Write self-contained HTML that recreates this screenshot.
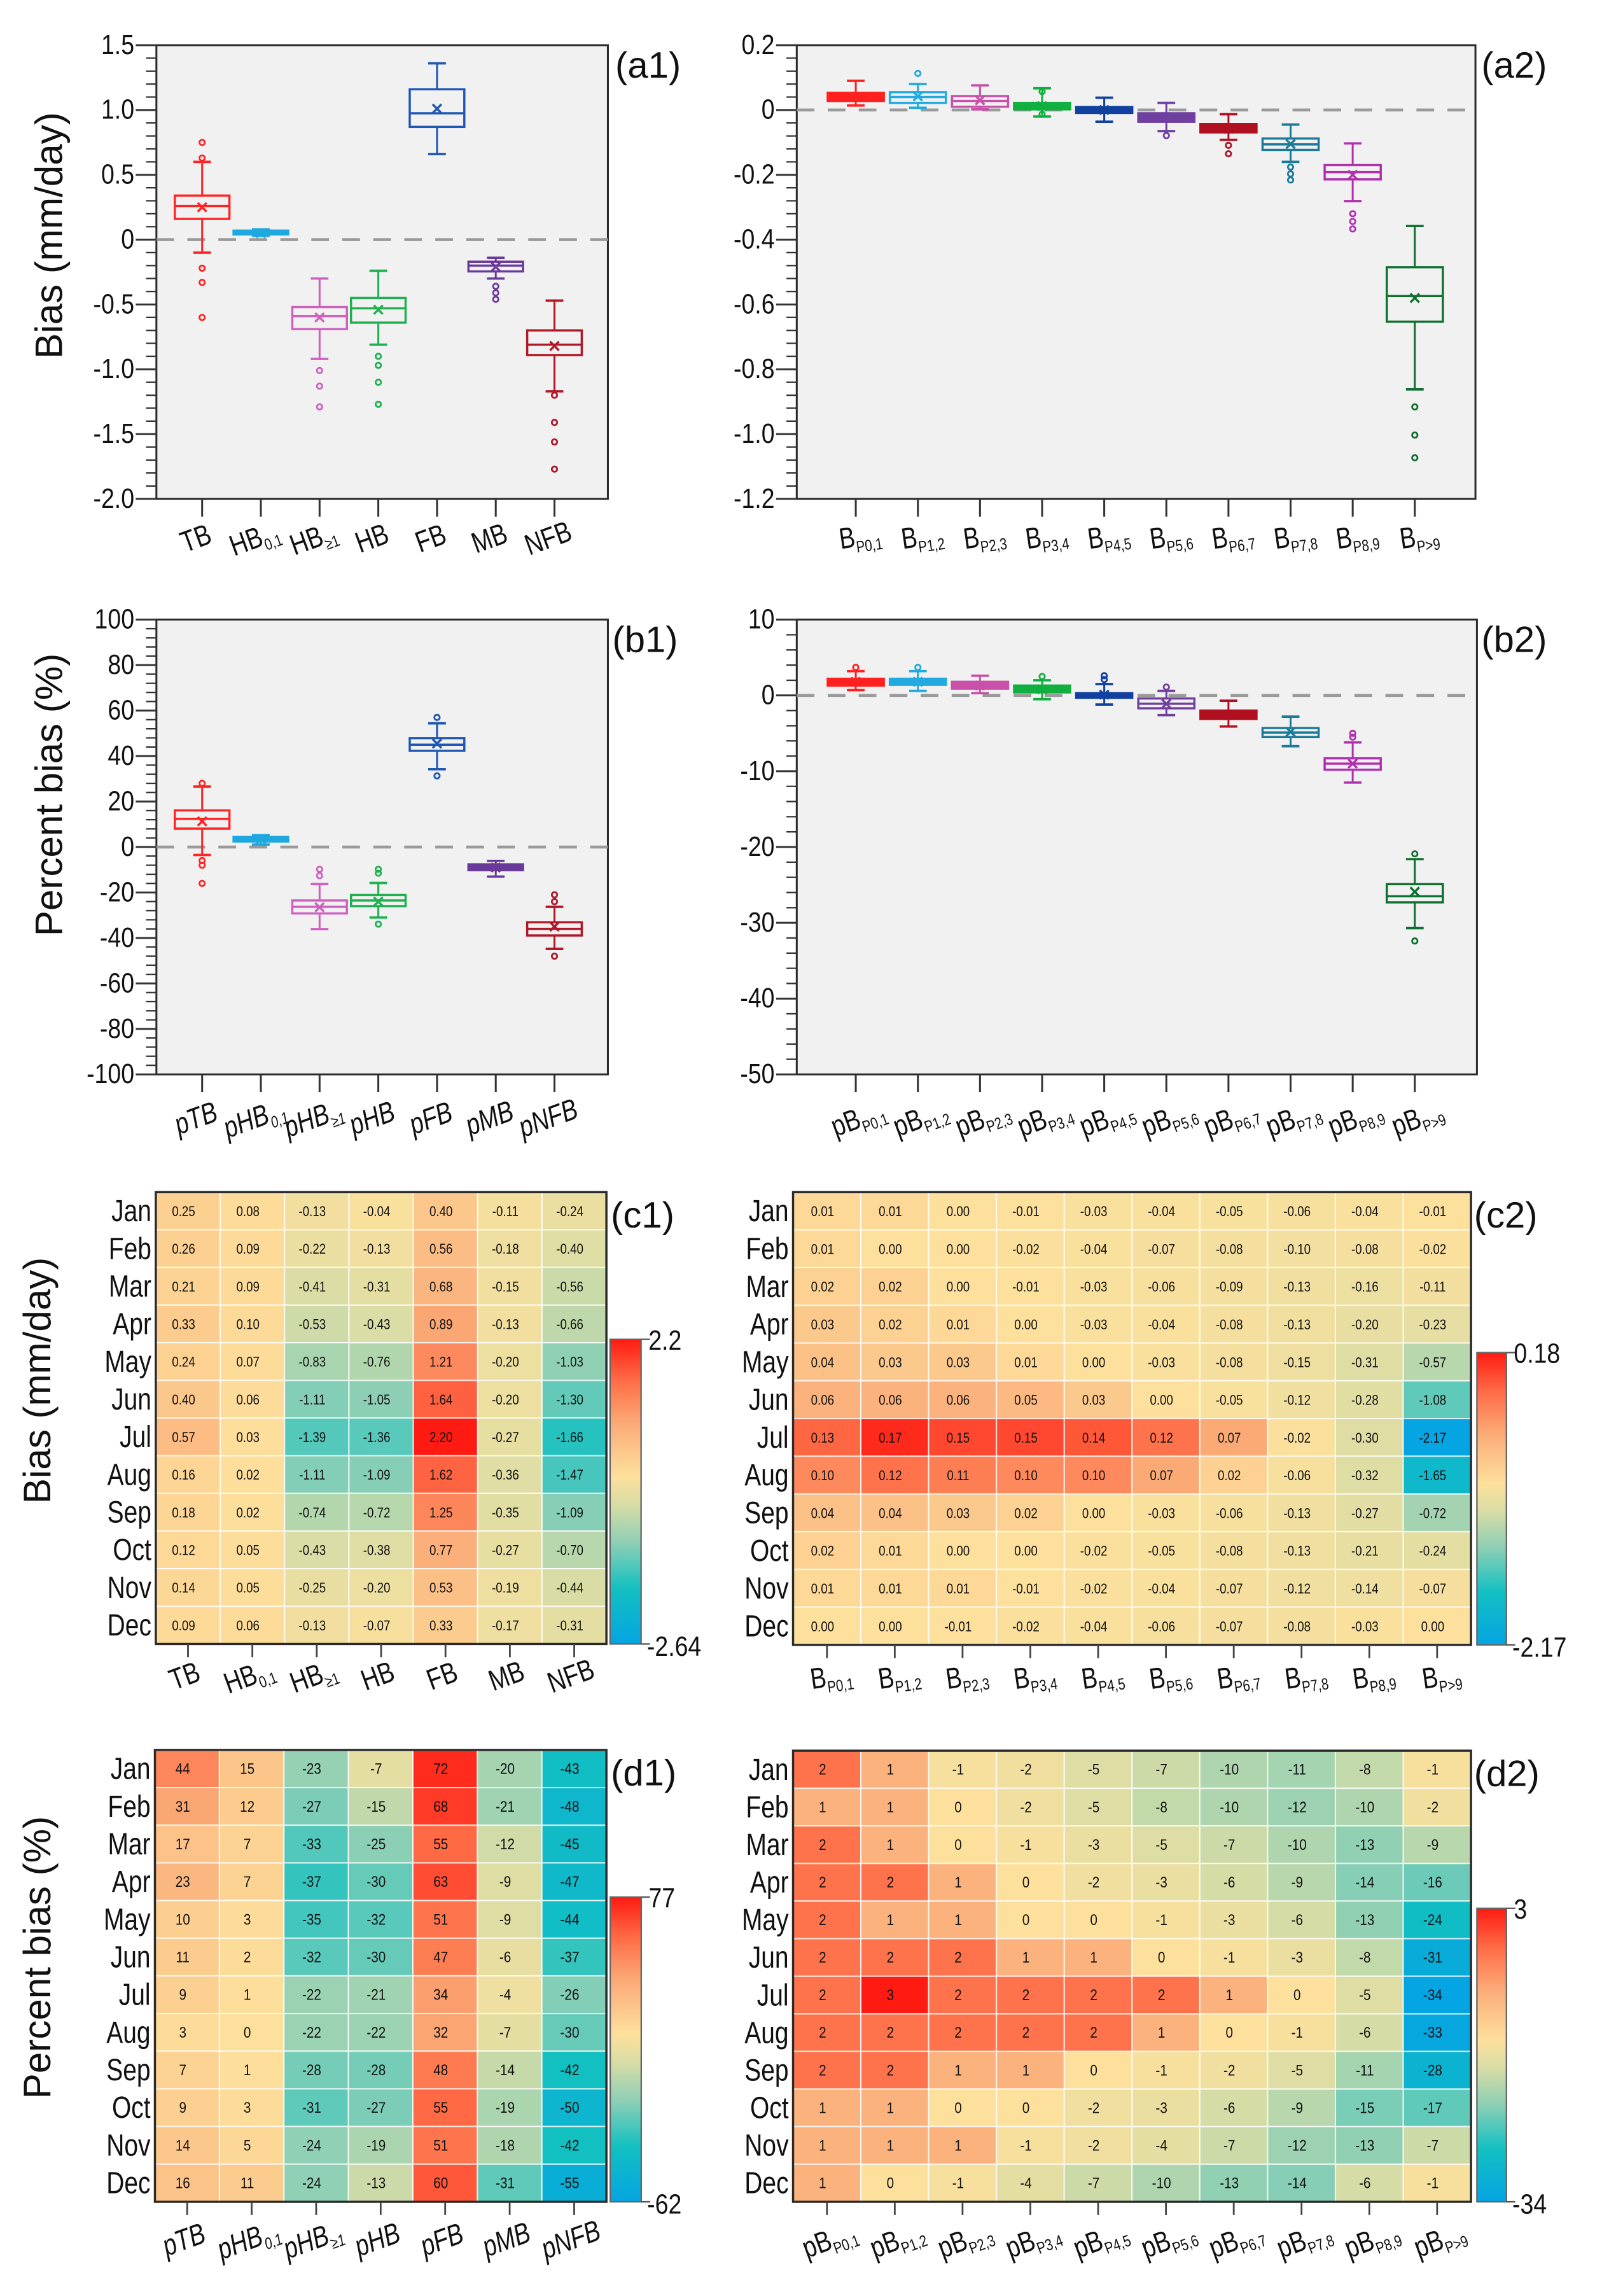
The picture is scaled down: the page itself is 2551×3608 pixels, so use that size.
<!DOCTYPE html>
<html><head><meta charset="utf-8"><style>
html,body{margin:0;padding:0;background:#fff;}
svg{display:block;}
text{font-family:"Liberation Sans Narrow","Liberation Sans",sans-serif;fill:#111;}
</style></head><body>
<svg id="fig" xmlns="http://www.w3.org/2000/svg" width="2551" height="3608" viewBox="0 0 1100 1560" preserveAspectRatio="none"></svg>
<script>
// ---------- DATA ----------
const a1Cats=[["TB",""],["HB","0,1"],["HB","≥1"],["HB",""],["FB",""],["MB",""],["NFB",""]];
const a1Colors=["#ff2424","#1ea8e0","#d060c0","#1fb050","#1f58b4","#6a3a9a","#b01828"];
const a1Low=[-0.10,0.03,-0.92,-0.81,0.66,-0.30,-1.17];
const a1Q1=[0.16,0.04,-0.69,-0.64,0.87,-0.245,-0.89];
const a1Med=[0.26,0.05,-0.59,-0.53,0.975,-0.20,-0.81];
const a1Q3=[0.34,0.07,-0.52,-0.45,1.16,-0.17,-0.70];
const a1High=[0.60,0.08,-0.30,-0.24,1.36,-0.14,-0.47];
const a1Mean=[0.25,0.05,-0.60,-0.54,1.01,-0.21,-0.82];
const a1Out=[[0.75,0.63,-0.22,-0.33,-0.60],[],[-1.01,-1.13,-1.29],[-0.90,-0.97,-1.10,-1.27],[],[-0.36,-0.41,-0.46],[-1.20,-1.41,-1.56,-1.77]];
const a1Ticks=["1.5","1.0","0.5","0","-0.5","-1.0","-1.5","-2.0"];

const a2Cats=[["B","P0,1"],["B","P1,2"],["B","P2,3"],["B","P3,4"],["B","P4,5"],["B","P5,6"],["B","P6,7"],["B","P7,8"],["B","P8,9"],["B","P>9"]];
const a2Colors=["#ff2020","#20aae0","#c850a8","#10b040","#1040a0","#7040a0","#b01020","#1a7a9a","#b030b0","#107030"];
const a2Low=[0.014,0.007,0.002,-0.02,-0.036,-0.065,-0.092,-0.16,-0.281,-0.862];
const a2Q1=[0.028,0.022,0.010,0.002,-0.009,-0.036,-0.069,-0.123,-0.214,-0.653];
const a2Med=[0.043,0.040,0.028,0.013,0.0,-0.023,-0.058,-0.106,-0.192,-0.574];
const a2Q3=[0.053,0.055,0.043,0.022,0.009,-0.010,-0.043,-0.088,-0.170,-0.485];
const a2High=[0.09,0.08,0.076,0.067,0.038,0.022,-0.013,-0.045,-0.103,-0.358];
const a2Mean=[0.04,0.042,0.03,0.012,0.0,-0.022,-0.058,-0.105,-0.20,-0.58];
const a2Out=[[],[0.113],[],[0.057,-0.013],[],[-0.079],[-0.109,-0.135],[-0.176,-0.197,-0.216],[-0.32,-0.344,-0.367],[-0.916,-1.003,-1.073]];
const a2Ticks=["0.2","0","-0.2","-0.4","-0.6","-0.8","-1.0","-1.2"];

const b1Cats=[["pTB",""],["pHB","0,1"],["pHB","≥1"],["pHB",""],["pFB",""],["pMB",""],["pNFB",""]];
const b1Low=[-3.5,1.1,-36.1,-31,34.2,-13,-44.8];
const b1Q1=[8.1,2.4,-29.2,-26,42.3,-10.2,-38.9];
const b1Med=[12.4,3.4,-26.3,-23.5,45,-8.9,-36];
const b1Q3=[16.1,4.4,-23.5,-21.1,47.9,-7.6,-33.1];
const b1High=[26.6,5.2,-16.3,-15.8,54.4,-6.1,-26.3];
const b1Mean=[11.3,3.4,-26.5,-24,45.5,-9,-35];
const b1Out=[[28,-6,-8,-16],[],[-9.8,-12.6],[-9.8,-11.5,-33.9],[57,31.3],[],[-21,-24,-48]];
const b1Ticks=["100","80","60","40","20","0","-20","-40","-60","-80","-100"];

const b2Cats=[["pB","P0,1"],["pB","P1,2"],["pB","P2,3"],["pB","P3,4"],["pB","P4,5"],["pB","P5,6"],["pB","P6,7"],["pB","P7,8"],["pB","P8,9"],["pB","P>9"]];
const b2Low=[0.7,0.6,0.3,-0.5,-1.2,-2.6,-4.1,-6.7,-11.5,-30.7];
const b2Q1=[1.3,1.4,0.9,0.4,-0.3,-1.7,-3.1,-5.5,-9.8,-27.3];
const b2Med=[1.7,1.8,1.3,0.8,0.0,-1.1,-2.6,-4.9,-9.0,-26.5];
const b2Q3=[2.2,2.2,1.8,1.3,0.3,-0.4,-2.0,-4.3,-8.3,-24.9];
const b2High=[3.2,3.2,2.6,2.0,1.5,0.6,-0.7,-2.8,-6.2,-21.6];
const b2Mean=[1.8,1.8,1.3,0.8,0.1,-1.1,-2.6,-4.8,-9.0,-25.9];
const b2Out=[[3.7],[3.7],[],[2.5],[2.6,2.1],[1.1],[],[],[-5.0,-5.5],[-20.9,-32.4]];
const b2Ticks=["10","0","-10","-20","-30","-40","-50"];

const months=["Jan","Feb","Mar","Apr","May","Jun","Jul","Aug","Sep","Oct","Nov","Dec"];
const c1Values=[
[0.25,0.08,-0.13,-0.04,0.40,-0.11,-0.24],
[0.26,0.09,-0.22,-0.13,0.56,-0.18,-0.40],
[0.21,0.09,-0.41,-0.31,0.68,-0.15,-0.56],
[0.33,0.10,-0.53,-0.43,0.89,-0.13,-0.66],
[0.24,0.07,-0.83,-0.76,1.21,-0.20,-1.03],
[0.40,0.06,-1.11,-1.05,1.64,-0.20,-1.30],
[0.57,0.03,-1.39,-1.36,2.20,-0.27,-1.66],
[0.16,0.02,-1.11,-1.09,1.62,-0.36,-1.47],
[0.18,0.02,-0.74,-0.72,1.25,-0.35,-1.09],
[0.12,0.05,-0.43,-0.38,0.77,-0.27,-0.70],
[0.14,0.05,-0.25,-0.20,0.53,-0.19,-0.44],
[0.09,0.06,-0.13,-0.07,0.33,-0.17,-0.31]];
const c1Range=[-2.64,2.2];
const c1RangeLabels=["2.2","-2.64"];
const c2Values=[
[0.01,0.01,0.00,-0.01,-0.03,-0.04,-0.05,-0.06,-0.04,-0.01],
[0.01,0.00,0.00,-0.02,-0.04,-0.07,-0.08,-0.10,-0.08,-0.02],
[0.02,0.02,0.00,-0.01,-0.03,-0.06,-0.09,-0.13,-0.16,-0.11],
[0.03,0.02,0.01,0.00,-0.03,-0.04,-0.08,-0.13,-0.20,-0.23],
[0.04,0.03,0.03,0.01,0.00,-0.03,-0.08,-0.15,-0.31,-0.57],
[0.06,0.06,0.06,0.05,0.03,0.00,-0.05,-0.12,-0.28,-1.08],
[0.13,0.17,0.15,0.15,0.14,0.12,0.07,-0.02,-0.30,-2.17],
[0.10,0.12,0.11,0.10,0.10,0.07,0.02,-0.06,-0.32,-1.65],
[0.04,0.04,0.03,0.02,0.00,-0.03,-0.06,-0.13,-0.27,-0.72],
[0.02,0.01,0.00,0.00,-0.02,-0.05,-0.08,-0.13,-0.21,-0.24],
[0.01,0.01,0.01,-0.01,-0.02,-0.04,-0.07,-0.12,-0.14,-0.07],
[0.00,0.00,-0.01,-0.02,-0.04,-0.06,-0.07,-0.08,-0.03,0.00]];
const c2Range=[-2.17,0.18];
const c2RangeLabels=["0.18","-2.17"];
const d1Values=[
[44,15,-23,-7,72,-20,-43],
[31,12,-27,-15,68,-21,-48],
[17,7,-33,-25,55,-12,-45],
[23,7,-37,-30,63,-9,-47],
[10,3,-35,-32,51,-9,-44],
[11,2,-32,-30,47,-6,-37],
[9,1,-22,-21,34,-4,-26],
[3,0,-22,-22,32,-7,-30],
[7,1,-28,-28,48,-14,-42],
[9,3,-31,-27,55,-19,-50],
[14,5,-24,-19,51,-18,-42],
[16,11,-24,-13,60,-31,-55]];
const d1Range=[-62,77];
const d1RangeLabels=["77","-62"];
const d2Values=[
[2,1,-1,-2,-5,-7,-10,-11,-8,-1],
[1,1,0,-2,-5,-8,-10,-12,-10,-2],
[2,1,0,-1,-3,-5,-7,-10,-13,-9],
[2,2,1,0,-2,-3,-6,-9,-14,-16],
[2,1,1,0,0,-1,-3,-6,-13,-24],
[2,2,2,1,1,0,-1,-3,-8,-31],
[2,3,2,2,2,2,1,0,-5,-34],
[2,2,2,2,2,1,0,-1,-6,-33],
[2,2,1,1,0,-1,-2,-5,-11,-28],
[1,1,0,0,-2,-3,-6,-9,-15,-17],
[1,1,1,-1,-2,-4,-7,-12,-13,-7],
[1,0,-1,-4,-7,-10,-13,-14,-6,-1]];
const d2Range=[-34,3];
const d2RangeLabels=["3","-34"];

// ---------- HELPERS ----------
const NS="http://www.w3.org/2000/svg";
const svg=document.getElementById('fig');
function mk(tag,parent){const e=document.createElementNS(NS,tag);(parent||svg).appendChild(e);return e;}
function at(e,o){for(const k in o)e.setAttribute(k,o[k]);return e;}
function line(p,x1,y1,x2,y2,c,w){return at(mk('line',p),{x1,y1,x2,y2,stroke:c,'stroke-width':w});}
function cond(x,y,sx){return `translate(${x} ${y}) scale(${sx} 1) translate(${-x} ${-y})`;}
const stops=[[0,[5,164,226]],[0.18,[18,192,194]],[0.33,[140,207,181]],[0.46,[218,221,165]],[0.55,[253,224,156]],[0.72,[251,172,120]],[0.87,[255,106,69]],[1,[255,26,18]]];
function cmapT(t){t=Math.max(0,Math.min(1,t));for(let i=1;i<stops.length;i++){if(t<=stops[i][0]){const a=stops[i-1],b=stops[i];const f=(t-a[0])/(b[0]-a[0]);const c=a[1].map((v,k)=>Math.round(v+(b[1][k]-v)*f));return `rgb(${c[0]},${c[1]},${c[2]})`;}}return 'rgb(255,26,18)';}
function valT(v,range){return v>=0?0.55+0.45*v/range[1]:0.55*(1-v/range[0]);}
function catLabel(p,x,y,lab,italic,rot,size){
  const t=mk('text',p);
  at(t,{x,y,'text-anchor':'middle','font-size':size,transform:`rotate(${rot} ${x} ${y}) `+cond(x,y,0.8)});
  if(italic)t.setAttribute('font-style','italic');
  const s1=mk('tspan',t);s1.textContent=lab[0];
  if(lab[1]){const s2=mk('tspan',t);at(s2,{'font-size':size*0.55,dy:4});s2.textContent=lab[1];}
  
  
  return t;
}

function boxPanel(cfg){
  const g=mk('g');
  
  
  const L=cfg.L,R=cfg.R,T=cfg.T,B=cfg.B;
  const y=v=>T+(cfg.ymax-v)/(cfg.ymax-cfg.ymin)*(B-T);
  const bg=at(mk('rect',g),{x:L,y:T,width:R-L,height:B-T,fill:'#f1f1f1',stroke:'#2a2a2a','stroke-width':1.3});
  
  
  const nMinor=Math.round((cfg.ymax-cfg.ymin)/cfg.minor);
  for(let i=0;i<=nMinor;i++){const yy=y(cfg.ymax-i*cfg.minor);line(g,L-7,yy,L,yy,'#333',1);}
  cfg.ticks.forEach((lab,i)=>{
    const v=cfg.ymax-i*cfg.major;const yy=y(v);
    line(g,L-14,yy,L,yy,'#333',1.3);
    const t=at(mk('text',g),{x:L-15,y:yy+6,'text-anchor':'end','font-size':19,transform:cond(L-15,yy,0.85)});
    t.textContent=lab;
    
    
  });
  const z=at(line(g,L,y(0),R,y(0),'#9a9a9a',2),{'stroke-dasharray':'12 9'});
  
  
  cfg.cats.forEach((c,i)=>{
    const cx=L+cfg.pad+i*cfg.step;const col=cfg.colors[i];const hw=cfg.bw/2;
    line(g,cx,B,cx,B+12,'#333',1.3);
    catLabel(g,cx+cfg.lx,B+cfg.ly,c,cfg.italic,cfg.rot,cfg.lsize);
    const bx=mk('g',g);
    
    
    line(bx,cx,y(cfg.high[i]),cx,y(cfg.q3[i]),col,1.3);
    line(bx,cx,y(cfg.q1[i]),cx,y(cfg.low[i]),col,1.3);
    line(bx,cx-6,y(cfg.high[i]),cx+6,y(cfg.high[i]),col,1.6);
    line(bx,cx-6,y(cfg.low[i]),cx+6,y(cfg.low[i]),col,1.6);
    const h=Math.max(y(cfg.q1[i])-y(cfg.q3[i]),1);
    at(mk('rect',bx),{x:cx-hw,y:y(cfg.q3[i]),width:cfg.bw,height:h,fill:h<6?col:'none',stroke:col,'stroke-width':1.5});
    line(bx,cx-hw,y(cfg.med[i]),cx+hw,y(cfg.med[i]),col,1.5);
    const my=y(cfg.mean[i]);
    line(bx,cx-3,my-3,cx+3,my+3,col,1.5);line(bx,cx-3,my+3,cx+3,my-3,col,1.5);
    cfg.out[i].forEach(o=>{at(mk('circle',bx),{cx,cy:y(o),r:1.8,fill:'none',stroke:col,'stroke-width':1.2});});
  });
  const pl=at(mk('text',g),{x:cfg.plx,y:T+22,'font-size':25});
  pl.textContent=cfg.panel;
  
  
}

function heatPanel(cfg){
  const g=mk('g');
  
  
  const L=cfg.L,R=cfg.R,T=cfg.T,B=cfg.B;
  const nc=cfg.cats.length,nr=months.length;
  const cw=(R-L)/nc,ch=(B-T)/nr;
  cfg.vals.forEach((row,r)=>{
    const my=T+r*ch+ch/2+7;
    const mt=at(mk('text',g),{x:L-3,y:my,'text-anchor':'end','font-size':21,transform:cond(L-3,my,0.8)});
    mt.textContent=months[r];
    
    
    row.forEach((v,c)=>{
      const cell=at(mk('rect',g),{x:L+c*cw,y:T+r*ch,width:cw,height:ch,fill:cmapT(valT(v,cfg.range)),stroke:'rgba(255,255,255,0.75)','stroke-width':0.9});
      
      
      const tx0=L+c*cw+cw/2-3,ty0=T+r*ch+ch/2+3.5;
      const tx=at(mk('text',g),{x:tx0,y:ty0,'text-anchor':'middle','font-size':cfg.fs,transform:cond(tx0,ty0,0.85)});
      tx.textContent=cfg.fmt(v);
      
      
    });
  });
  at(mk('rect',g),{x:L,y:T,width:R-L,height:B-T,fill:'none',stroke:'#2a2a2a','stroke-width':1.5});
  cfg.cats.forEach((c,i)=>{
    const cx=L+i*cw+cw/2;
    line(g,cx,B,cx,B+9,'#444',1.2);
    catLabel(g,cx+cfg.lx,B+cfg.ly,c,cfg.italic,cfg.rot,cfg.lsize);
  });
  const cb=mk('g',g);
  
  
  const gid='grad-'+cfg.panel.replace(/[()]/g,'');
  const defs=mk('defs',cb);const lg=at(mk('linearGradient',defs),{id:gid,x1:0,y1:1,x2:0,y2:0});
  stops.forEach(s=>{at(mk('stop',lg),{offset:s[0],'stop-color':`rgb(${s[1].join(',')})`});});
  at(mk('rect',cb),{x:cfg.cbL,y:cfg.cbT,width:cfg.cbW,height:B-cfg.cbT,fill:`url(#${gid})`,stroke:'#666','stroke-width':1});
  line(cb,cfg.cbL+cfg.cbW,cfg.cbT,cfg.cbL+cfg.cbW+6,cfg.cbT,'#555',1);
  line(cb,cfg.cbL+cfg.cbW,B,cfg.cbL+cfg.cbW+6,B,'#555',1);
  const t1=at(mk('text',cb),{x:cfg.cbL+cfg.cbW+5,y:cfg.cbT+7,'font-size':19,transform:cond(cfg.cbL+cfg.cbW+5,cfg.cbT,0.85)});t1.textContent=cfg.rl[0];
  
  
  const t2=at(mk('text',cb),{x:cfg.cbL+cfg.cbW+4,y:B+8,'font-size':19,transform:cond(cfg.cbL+cfg.cbW+4,B,0.85)});t2.textContent=cfg.rl[1];
  
  
  const pl=at(mk('text',g),{x:cfg.plx,y:T+24,'font-size':25});
  pl.textContent=cfg.panel;
  
  
}

function ylab(txt,x,y,size){
  const t=at(mk('text'),{x,y,'text-anchor':'middle','font-size':size,transform:`rotate(-90 ${x} ${y})`,style:'font-family:"Liberation Sans",sans-serif'});
  t.textContent=txt;
  
  
}

// ---------- DRAW ----------
boxPanel({name:'panel-a1',panel:'(a1)',L:106,R:412,T:30.7,B:339,ymax:1.5,ymin:-2,major:0.5,minor:0.1,ticks:a1Ticks,cats:a1Cats,colors:a1Colors,low:a1Low,q1:a1Q1,med:a1Med,q3:a1Q3,high:a1High,mean:a1Mean,out:a1Out,pad:31,step:39.8,bw:37,lx:-2,ly:33,rot:-20,lsize:20,italic:false,plx:417});
boxPanel({name:'panel-a2',panel:'(a2)',L:540,R:1000,T:30.7,B:339,ymax:0.2,ymin:-1.2,major:0.2,minor:0.04,ticks:a2Ticks,cats:a2Cats,colors:a2Colors,low:a2Low,q1:a2Q1,med:a2Med,q3:a2Q3,high:a2High,mean:a2Mean,out:a2Out,pad:40,step:42.1,bw:38,lx:4,ly:32,rot:-8,lsize:20,italic:false,plx:1004});
boxPanel({name:'panel-b1',panel:'(b1)',L:106,R:412,T:421,B:730,ymax:100,ymin:-100,major:20,minor:4,ticks:b1Ticks,cats:b1Cats,colors:a1Colors,low:b1Low,q1:b1Q1,med:b1Med,q3:b1Q3,high:b1High,mean:b1Mean,out:b1Out,pad:31,step:39.8,bw:37,lx:-2,ly:36,rot:-20,lsize:20,italic:true,plx:415});
boxPanel({name:'panel-b2',panel:'(b2)',L:540,R:1001,T:421,B:730,ymax:10,ymin:-50,major:10,minor:2,ticks:b2Ticks,cats:b2Cats,colors:a2Colors,low:b2Low,q1:b2Q1,med:b2Med,q3:b2Q3,high:b2High,mean:b2Mean,out:b2Out,pad:40,step:42.1,bw:38,lx:4,ly:36,rot:-20,lsize:20,italic:false,plx:1004});

const f2=v=>v.toFixed(2);const f0=v=>String(v);
heatPanel({name:'panel-c1',panel:'(c1)',L:105.6,R:411,T:810,B:1117,cats:a1Cats,vals:c1Values,range:c1Range,rl:c1RangeLabels,fmt:f2,fs:9.5,cbL:413.5,cbW:21,cbT:910,lx:0,ly:28,rot:-20,lsize:20,italic:false,plx:414});
heatPanel({name:'panel-c2',panel:'(c2)',L:537.5,R:997,T:810,B:1117.6,cats:a2Cats,vals:c2Values,range:c2Range,rl:c2RangeLabels,fmt:f2,fs:9.5,cbL:1001,cbW:20,cbT:919,lx:4,ly:28,rot:-8,lsize:20,italic:false,plx:999});
heatPanel({name:'panel-d1',panel:'(d1)',L:105,R:411,T:1189,B:1496,cats:b1Cats,vals:d1Values,range:d1Range,rl:d1RangeLabels,fmt:f0,fs:10.5,cbL:413.6,cbW:21,cbT:1289,lx:0,ly:32,rot:-20,lsize:20,italic:true,plx:414});
heatPanel({name:'panel-d2',panel:'(d2)',L:537.5,R:997,T:1189.5,B:1496,cats:b2Cats,vals:d2Values,range:d2Range,rl:d2RangeLabels,fmt:f0,fs:10.5,cbL:1001,cbW:20,cbT:1296.6,lx:4,ly:32,rot:-20,lsize:20,italic:false,plx:999});

ylab('Bias (mm/day)',42,160,26);
ylab('Percent bias (%)',42,540,26);
ylab('Bias (mm/day)',34,938,26);
ylab('Percent bias (%)',34,1330,26);
</script>
</body></html>
